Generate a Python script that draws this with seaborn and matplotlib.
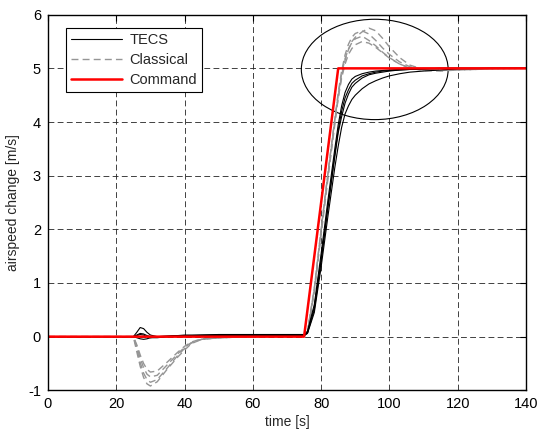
import numpy as np
import pandas as pd
import matplotlib
matplotlib.use("Agg")
import matplotlib.pyplot as plt
from matplotlib.lines import Line2D
from matplotlib.patches import Ellipse
import seaborn as sns

sns.set_style("white")
plt.rcParams['font.family'] = ['Liberation Sans', 'DejaVu Sans']
plt.rcParams['axes.unicode_minus'] = False

# time grid shared by the simulated runs [s]
time = [0, 20, 25, 26, 27, 28, 29, 30, 32, 35, 38, 40, 42, 45, 50, 60, 70, 75, 76, 78,
        80, 82, 84, 85, 86, 87, 88, 89, 90, 92, 94, 96, 98, 100, 103, 106, 110, 115, 120, 130, 140]

# TECS runs (airspeed change, m/s)
tecs_1 = [0, 0, 0, 0.08, 0.17, 0.15, 0.08, 0.03, 0.0, 0.01, 0.02, 0.03, 0.03, 0.03, 0.04, 0.04, 0.04, 0.04, 0.1, 0.6,
          1.55, 2.55, 3.5, 3.95, 4.3, 4.55, 4.7, 4.8, 4.85, 4.9, 4.93, 4.95, 4.96, 4.97, 4.98, 4.99, 5.0, 5.0, 5.0, 5.0, 5.0]
tecs_2 = [0, 0, 0, 0.03, 0.06, 0.05, 0.02, 0.0, -0.01, 0.0, 0.01, 0.02, 0.02, 0.03, 0.03, 0.03, 0.03, 0.03, 0.08, 0.55,
          1.45, 2.45, 3.4, 3.85, 4.2, 4.45, 4.6, 4.72, 4.78, 4.86, 4.9, 4.93, 4.95, 4.96, 4.97, 4.98, 4.99, 5.0, 5.0, 5.0, 5.0]
tecs_3 = [0, 0, 0, -0.02, -0.04, -0.05, -0.04, -0.02, 0.0, 0.01, 0.02, 0.02, 0.02, 0.02, 0.03, 0.03, 0.03, 0.03, 0.07, 0.5,
          1.4, 2.4, 3.35, 3.8, 4.1, 4.35, 4.52, 4.65, 4.72, 4.82, 4.88, 4.91, 4.93, 4.95, 4.97, 4.98, 4.99, 5.0, 5.0, 5.0, 5.0]
tecs_4 = [0, 0, 0, 0.02, 0.04, 0.03, 0.0, -0.02, -0.02, 0.0, 0.01, 0.02, 0.02, 0.02, 0.02, 0.02, 0.02, 0.02, 0.06, 0.45,
          1.3, 2.25, 3.15, 3.55, 3.9, 4.15, 4.3, 4.42, 4.5, 4.62, 4.71, 4.77, 4.82, 4.86, 4.9, 4.93, 4.95, 4.97, 4.99, 5.0, 5.0]

# Classical runs
classical_1 = [0, 0, 0, -0.28, -0.55, -0.76, -0.88, -0.92, -0.84, -0.6, -0.38, -0.25, -0.13, -0.05, -0.02, 0.0, 0.01, 0.01, 0.08, 0.85,
               1.9, 2.95, 3.95, 4.45, 4.85, 5.15, 5.35, 5.5, 5.58, 5.68, 5.75, 5.7, 5.56, 5.4, 5.2, 5.06, 4.98, 4.96, 4.97, 4.99, 5.0]
classical_2 = [0, 0, 0, -0.22, -0.48, -0.68, -0.8, -0.85, -0.8, -0.58, -0.35, -0.22, -0.12, -0.05, -0.02, 0.0, 0.01, 0.01, 0.09, 0.9,
               2.0, 3.05, 4.05, 4.55, 4.95, 5.25, 5.45, 5.58, 5.65, 5.7, 5.64, 5.52, 5.38, 5.26, 5.12, 5.03, 4.98, 4.96, 4.98, 5.0, 5.0]
classical_3 = [0, 0, 0, -0.18, -0.4, -0.58, -0.7, -0.75, -0.72, -0.52, -0.32, -0.2, -0.11, -0.05, -0.02, 0.0, 0.01, 0.01, 0.09, 0.9,
               2.0, 3.05, 4.05, 4.5, 4.9, 5.18, 5.36, 5.48, 5.55, 5.6, 5.52, 5.42, 5.3, 5.2, 5.08, 5.01, 4.97, 4.97, 4.98, 5.0, 5.0]
classical_4 = [0, 0, 0, -0.15, -0.34, -0.5, -0.61, -0.66, -0.64, -0.47, -0.29, -0.18, -0.1, -0.04, -0.02, 0.0, 0.01, 0.01, 0.08, 0.85,
               1.95, 3.0, 4.0, 4.45, 4.82, 5.08, 5.26, 5.37, 5.44, 5.5, 5.47, 5.39, 5.29, 5.19, 5.08, 5.0, 4.96, 4.95, 4.97, 4.99, 5.0]

# commanded airspeed step (ramp)
command_time = [0, 75, 85, 140]
command_value = [0, 0, 5, 5]

x_ticks = [0, 20, 40, 60, 80, 100, 120, 140]
y_ticks = [-1, 0, 1, 2, 3, 4, 5, 6]


def runs_frame(runs, name):
    rows = []
    for i, vals in enumerate(runs):
        rows.append(pd.DataFrame({"time": time, "value": vals, "run": f"{name}{i}"}))
    return pd.concat(rows, ignore_index=True)


classical_df = runs_frame([classical_1, classical_2, classical_3, classical_4], "classical")
tecs_df = runs_frame([tecs_1, tecs_2, tecs_3, tecs_4], "tecs")
command_df = pd.DataFrame({"time": command_time, "value": command_value})

fig = plt.figure(figsize=(5.38, 4.3), dpi=100)
ax = fig.add_axes([0.0892, 0.0923, 0.8885, 0.8735])

gray = "#959595"
sns.lineplot(data=classical_df, x="time", y="value", units="run", estimator=None,
             color=gray, linewidth=1.0, linestyle=(0, (5, 3)), ax=ax, legend=False)
sns.lineplot(data=tecs_df, x="time", y="value", units="run", estimator=None,
             color="black", linewidth=0.8, ax=ax, legend=False)
sns.lineplot(data=command_df, x="time", y="value", color="red", linewidth=1.8,
             ax=ax, legend=False)

# highlight ellipse around the overshoot region
ax.add_patch(Ellipse((95.7, 4.98), 43, 1.87, fill=False, edgecolor="black", linewidth=0.8))

ax.set_xlim(0, 140)
ax.set_ylim(-1, 6)
ax.set_xticks(x_ticks)
ax.set_yticks(y_ticks)
ax.grid(True, color="#222222", linestyle=(0, (7, 4)), linewidth=0.6)
ax.tick_params(direction="in", length=4, width=0.8, top=True, right=True,
               labelsize=10.5, pad=5, colors="black")
for s in ax.spines.values():
    s.set_color("black")
    s.set_linewidth(1.0)

ax.set_xlabel("time [s]", fontsize=10, labelpad=3)
ax.set_ylabel("airspeed change [m/s]", fontsize=10, labelpad=6)

handles = [
    Line2D([], [], color="black", linewidth=0.8),
    Line2D([], [], color=gray, linewidth=1.0, linestyle=(0, (5, 3))),
    Line2D([], [], color="red", linewidth=1.8),
]
leg = ax.legend(handles, ["TECS", "Classical", "Command"], loc="upper left",
                bbox_to_anchor=(0.038, 0.965), borderaxespad=0, fancybox=False,
                framealpha=1, edgecolor="black", fontsize=10.5, handlelength=3.5,
                handletextpad=0.5, borderpad=0.35, labelspacing=0.4)
leg.get_frame().set_linewidth(0.8)

fig.savefig("out.png", dpi=100)
